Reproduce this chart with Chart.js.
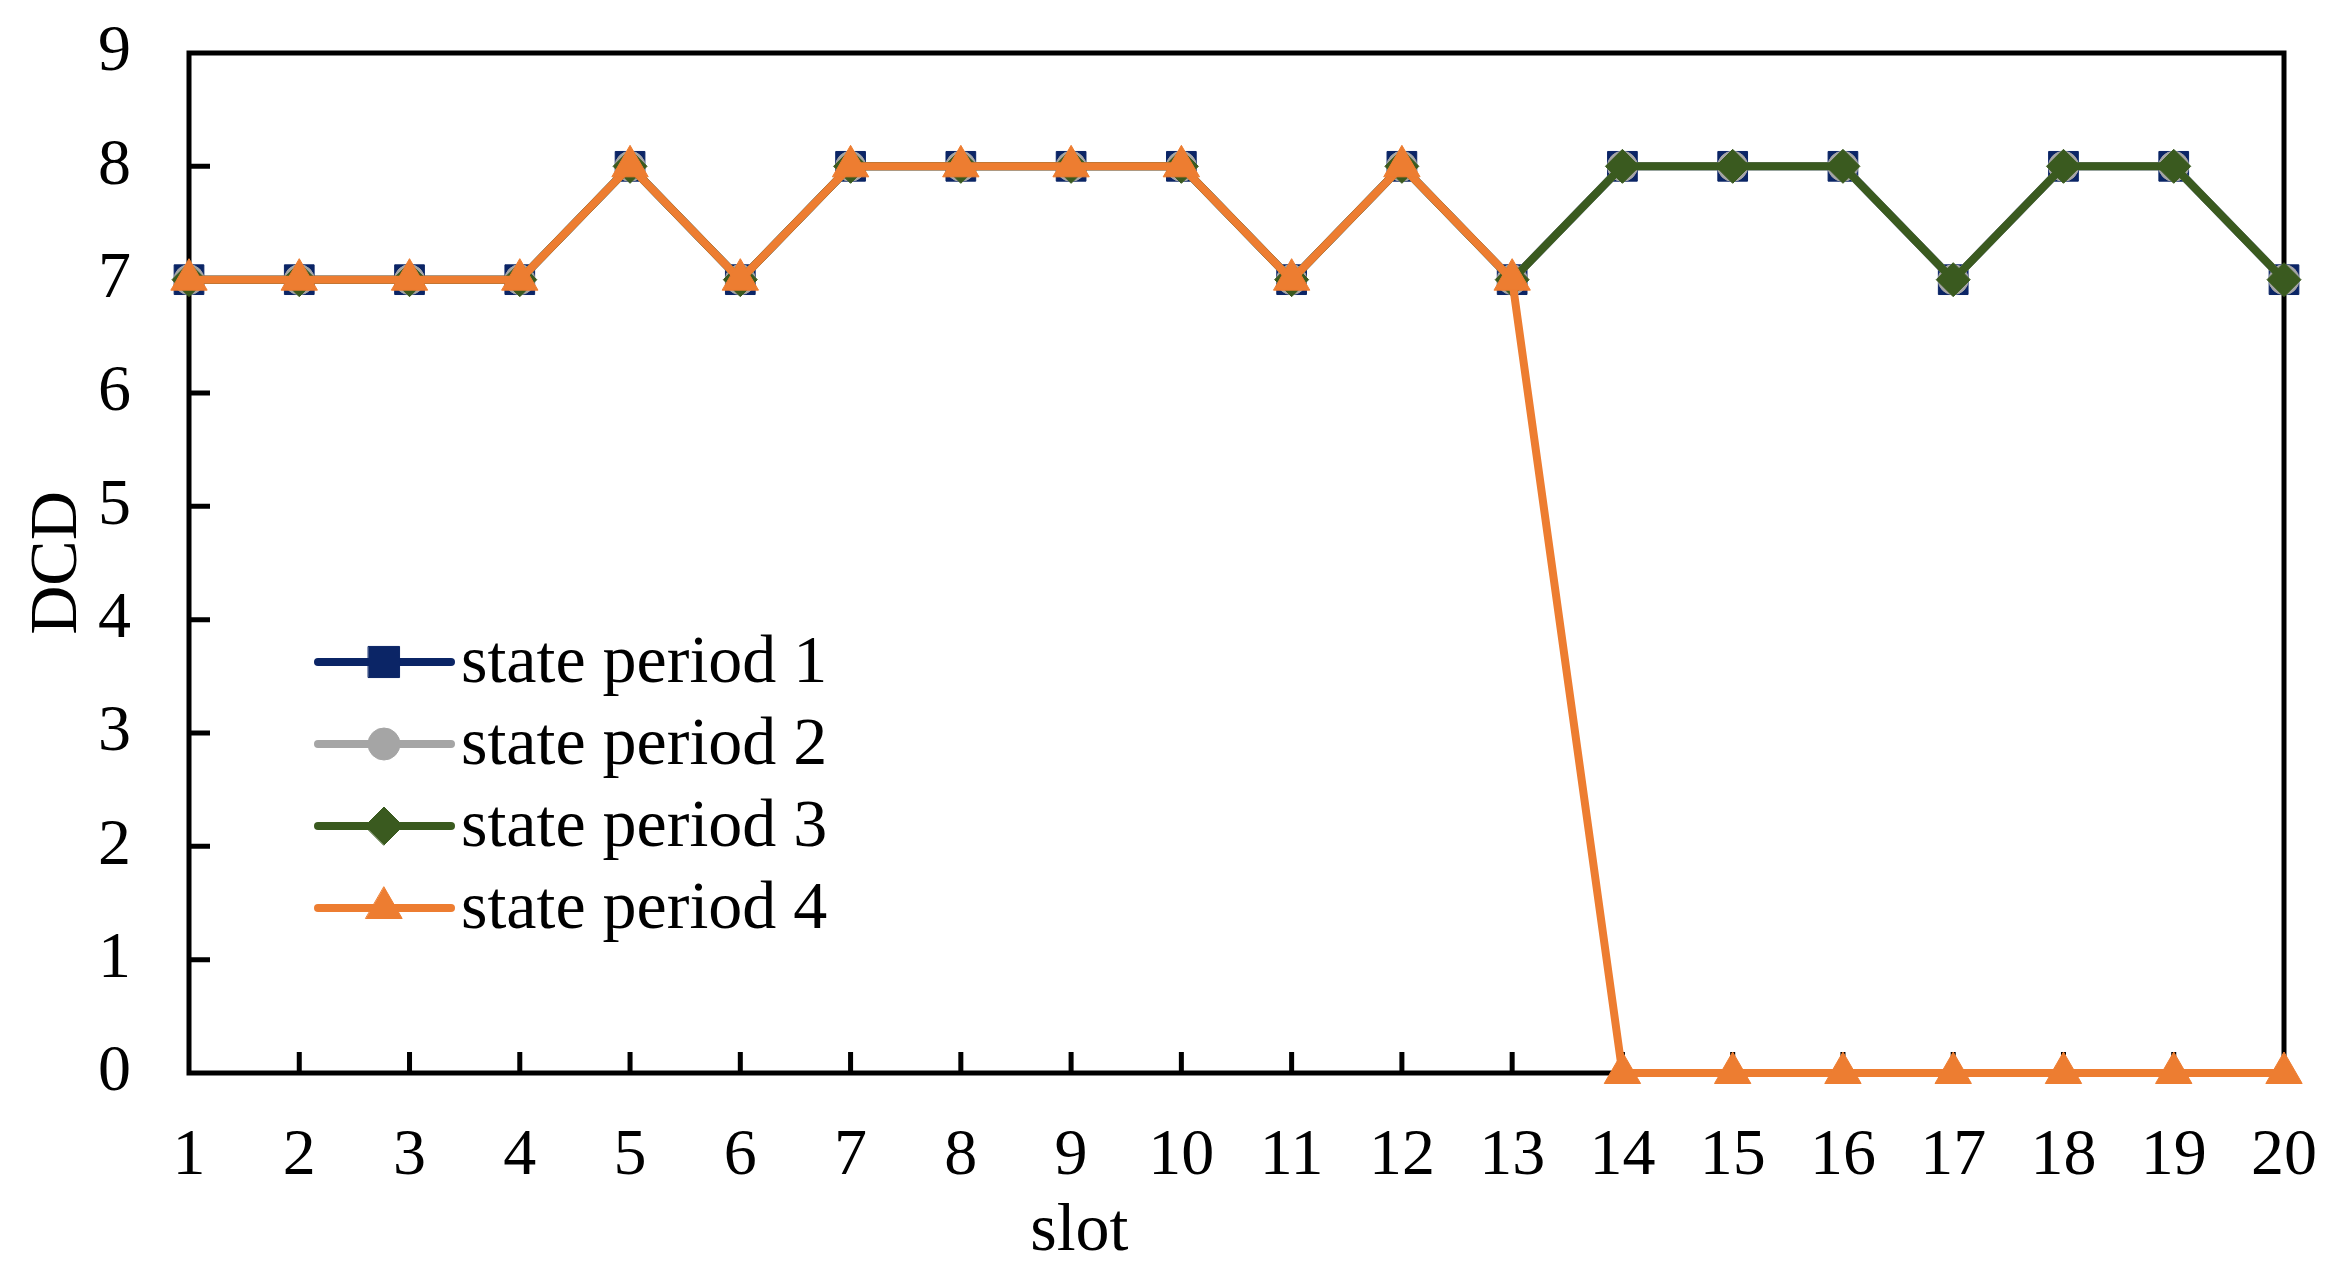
<!DOCTYPE html>
<html>
<head>
<meta charset="utf-8">
<script src="https://cdn.jsdelivr.net/npm/chart.js@4.4.0/dist/chart.umd.min.js"></script>
<style>
  html, body { margin: 0; padding: 0; background: #fff; }
  #wrap { width: 2344px; height: 1284px; }
</style>
</head>
<body>
<div id="wrap"><canvas id="chart"></canvas></div>
<script>
const slots = ['1','2','3','4','5','6','7','8','9','10','11','12','13','14','15','16','17','18','19','20'];
const period1 = [7,7,7,7,8,7,8,8,8,8,7,8,7,8,8,8,7,8,8,7];
const period2 = [7,7,7,7,8,7,8,8,8,8,7,8,7,8,8,8,7,8,8,7];
const period3 = [7,7,7,7,8,7,8,8,8,8,7,8,7,8,8,8,7,8,8,7];
const period4 = [7,7,7,7,8,7,8,8,8,8,7,8,7,0,0,0,0,0,0,0];
const seriesNames = ['state period 1', 'state period 2', 'state period 3', 'state period 4'];

const FONT = "'Liberation Serif', 'Times New Roman', serif";

// box + inward tick marks, under the data
const frameTicks = {
  id: 'frameTicks',
  beforeDatasetsDraw(chart) {
    const { ctx, chartArea: a, scales } = chart;
    ctx.save();
    ctx.strokeStyle = '#000';
    ctx.lineWidth = 5;
    ctx.lineCap = 'butt';
    ctx.beginPath();
    scales.x.ticks.forEach((t, i) => {
      if (i === 0 || i === scales.x.ticks.length - 1) return;
      const px = scales.x.getPixelForTick(i);
      ctx.moveTo(px, a.bottom);
      ctx.lineTo(px, a.bottom - 21);
    });
    scales.y.ticks.forEach((t) => {
      if (t.value <= 0 || t.value >= 9) return;
      const py = scales.y.getPixelForValue(t.value);
      ctx.moveTo(a.left, py);
      ctx.lineTo(a.left + 21, py);
    });
    ctx.stroke();
    ctx.strokeRect(a.left, a.top, a.right - a.left, a.bottom - a.top);
    ctx.restore();
  }
};

// legend inside the plot: line + marker + text
const innerLegend = {
  id: 'innerLegend',
  afterDatasetsDraw(chart) {
    const { ctx, chartArea: a } = chart;
    const x0 = a.left + 129, x1 = a.left + 262, mx = a.left + 195;
    const legendRadius = [22, 16, 19, 21];
    ctx.save();
    chart.data.datasets.forEach((ds, i) => {
      const y = a.top + 609 + i * 82;
      ctx.strokeStyle = ds.borderColor;
      ctx.fillStyle = ds.borderColor;
      ctx.lineWidth = 8;
      ctx.lineCap = 'round';
      ctx.beginPath();
      ctx.moveTo(x0, y);
      ctx.lineTo(x1, y);
      ctx.stroke();
      ctx.lineWidth = 1;
      Chart.helpers.drawPoint(ctx, { pointStyle: ds.pointStyle, radius: legendRadius[i], borderWidth: 1, rotation: 0 }, mx, y);
      ctx.fillStyle = '#000';
      ctx.font = '68px ' + FONT;
      ctx.textBaseline = 'alphabetic';
      ctx.fillText(ds.label, x1 + 10, y + 20);
    });
    ctx.restore();
  }
};

// x title sits left of centre in the original
const slotTitle = {
  id: 'slotTitle',
  afterDraw(chart) {
    const { ctx, chartArea: a } = chart;
    ctx.save();
    ctx.fillStyle = '#000';
    ctx.font = '68px ' + FONT;
    ctx.textAlign = 'center';
    ctx.textBaseline = 'alphabetic';
    ctx.fillText('slot', a.left + 0.425 * (a.right - a.left), 1250);
    ctx.restore();
  }
};

const colors = ['#0b2566', '#a5a5a5', '#3a5a1f', '#ed7d31'];
const styles = ['rect', 'circle', 'rectRot', 'triangle'];
const radii = [21, 15, 17, 21];
const values = [period1, period2, period3, period4];

// invisible tick marks give the label offset without padding the chart area
const hiddenGrid = (len) => ({
  display: true,
  drawOnChartArea: false,
  drawTicks: true,
  tickLength: len,
  tickColor: 'rgba(0,0,0,0)',
});

new Chart(document.getElementById('chart'), {
  type: 'line',
  data: {
    labels: slots,
    datasets: values.map((v, i) => ({
      label: seriesNames[i],
      data: v,
      borderColor: colors[i],
      backgroundColor: colors[i],
      pointBackgroundColor: colors[i],
      pointBorderColor: colors[i],
      pointStyle: styles[i],
      pointRadius: radii[i],
      pointBorderWidth: 1,
      borderWidth: 8,
      tension: 0,
      clip: false,
      order: 4 - i,
    })),
  },
  options: {
    responsive: true,
    maintainAspectRatio: false,
    animation: false,
    layout: { padding: { top: 53, right: 60, bottom: 0, left: 0 } },
    plugins: {
      legend: { display: false },
      tooltip: { enabled: false },
    },
    scales: {
      x: {
        grid: hiddenGrid(44),
        border: { display: false },
        ticks: {
          color: '#000',
          font: { family: FONT, size: 66 },
          padding: 0,
          maxRotation: 0,
          autoSkip: false,
        },
        afterFit(scale) { scale.height = 211; },
      },
      y: {
        min: 0,
        max: 9,
        grid: hiddenGrid(58),
        border: { display: false },
        ticks: {
          stepSize: 1,
          color: '#000',
          font: { family: FONT, size: 66 },
          padding: 0,
        },
        title: {
          display: true,
          text: 'DCD',
          color: '#000',
          font: { family: FONT, size: 68 },
          padding: { top: 17, bottom: 0 },
        },
        afterFit(scale) { scale.width = 189; },
      },
    },
  },
  plugins: [frameTicks, innerLegend, slotTitle],
});
</script>
</body>
</html>
